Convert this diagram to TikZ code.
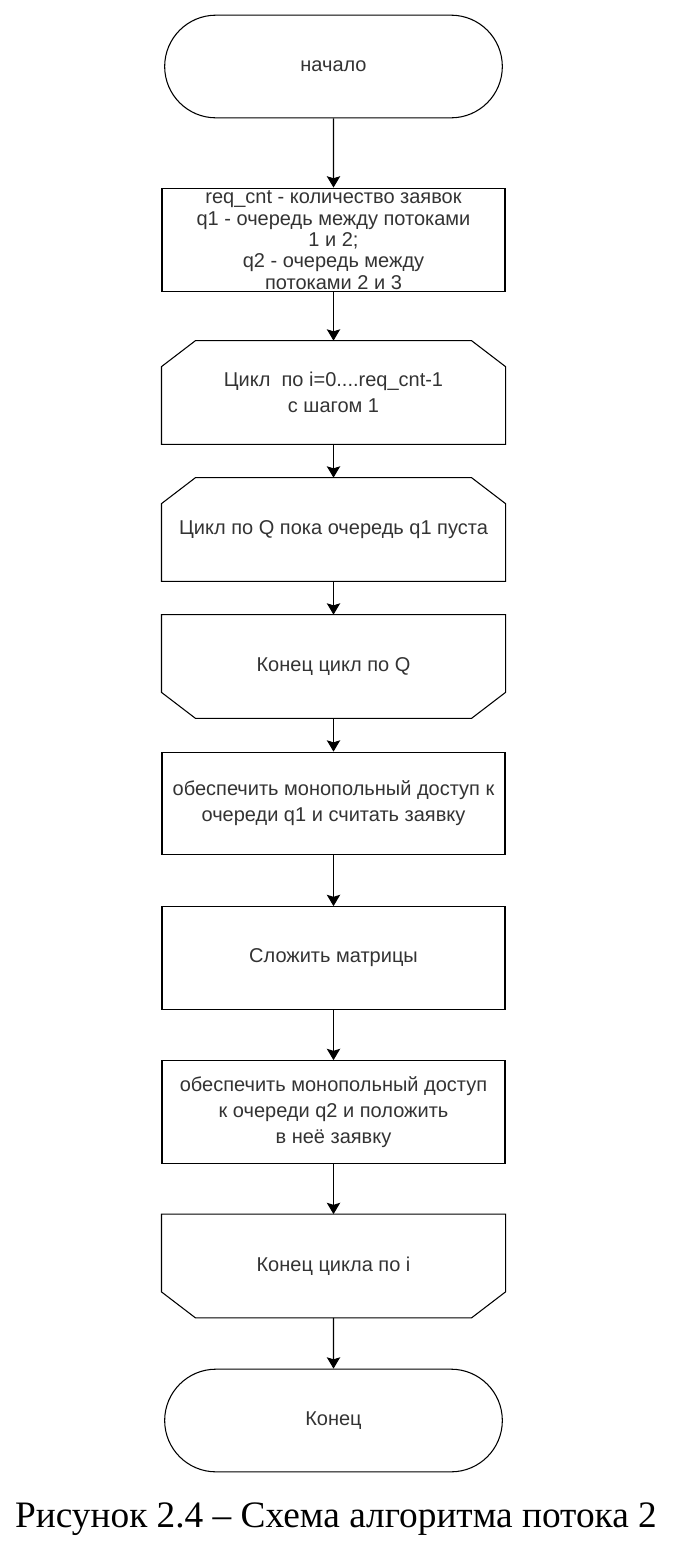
\documentclass[tikz,border=0pt]{standalone}
\usepackage{fontspec}
\setmainfont{Liberation Serif}
\newfontfamily\drawfont{Liberation Sans}
\usetikzlibrary{shapes.misc,arrows.meta}

\begin{document}
\begin{tikzpicture}
        [x=0.75pt,y=-0.75pt,
         block_style/.style={rectangle,draw=black,line width=0.8pt,minimum width=257.25pt,minimum height=77pt,inner sep=2pt,align=center,text=black!80,font=\drawfont\fontsize{15}{19.5}\selectfont},
         term_style/.style={block_style,rounded rectangle},
         loop_style/.style={block_style,draw=none},
         outline_style/.style={draw=black,line width=0.8pt},
         edge_style/.style={draw=black,line width=0.8pt,-{Stealth[length=8.5pt,width=10pt,inset=1.5pt]}}]
            \useasboundingbox (0,0) rectangle (676,1546);
            \node[term_style] (v0) at (333.5,66.5)  {начало};
            \node[block_style,font=\drawfont\fontsize{15}{16}\selectfont] (v1) at (333.5,240)  {req\_cnt - количество заявок\\ q1 - очередь между потоками\\ 1 и 2;\\ q2 - очередь между\\ потоками 2 и 3};
            \node[loop_style] (v2) at (333.5,392.5)  {Цикл\ \ по i=0....req\_cnt-1\\ с шагом 1};
            \node[loop_style] (v3) at (333.5,529.5)  {Цикл по Q пока очередь q1 пуста};
            \node[loop_style] (v4) at (333.5,666.5)  {Конец цикл по Q};
            \node[block_style] (v5) at (333.5,803.5)  {обеспечить монопольный доступ к\\ очереди q1 и считать заявку};
            \node[block_style] (v6) at (333.5,958)  {Сложить матрицы};
            \node[block_style] (v7) at (333.5,1112)  {обеспечить монопольный доступ\\ к очереди q2 и положить\\ в неё заявку};
            \node[loop_style] (v8) at (333.5,1266)  {Конец цикла по i};
            \node[term_style] (v9) at (333.5,1420.5)  {Конец};
            \node[anchor=base,font=\fontsize{28}{32}\selectfont] (cap) at (336,1527) {Рисунок 2.4 – Схема алгоритма потока 2};
            % loop begin and loop end outlines
            \foreach \v in {v2,v3}
                \draw[outline_style] ([xshift=25.5pt]\v.north west) -- ([xshift=-25.5pt]\v.north east) -- ([yshift=-19.5pt]\v.north east) -- (\v.south east) -- (\v.south west) -- ([yshift=-19.5pt]\v.north west) -- cycle;
            \foreach \v in {v4,v8}
                \draw[outline_style] ([xshift=25.5pt]\v.south west) -- ([xshift=-25.5pt]\v.south east) -- ([yshift=19.5pt]\v.south east) -- (\v.north east) -- (\v.north west) -- ([yshift=19.5pt]\v.south west) -- cycle;
            \draw[edge_style]  (v0) -- (v1);
            \draw[edge_style]  (v1) -- (v2);
            \draw[edge_style]  (v2) -- (v3);
            \draw[edge_style]  (v3) -- (v4);
            \draw[edge_style]  (v4) -- (v5);
            \draw[edge_style]  (v5) -- (v6);
            \draw[edge_style]  (v6) -- (v7);
            \draw[edge_style]  (v7) -- (v8);
            \draw[edge_style]  (v8) -- (v9);
        \end{tikzpicture}
\end{document}
